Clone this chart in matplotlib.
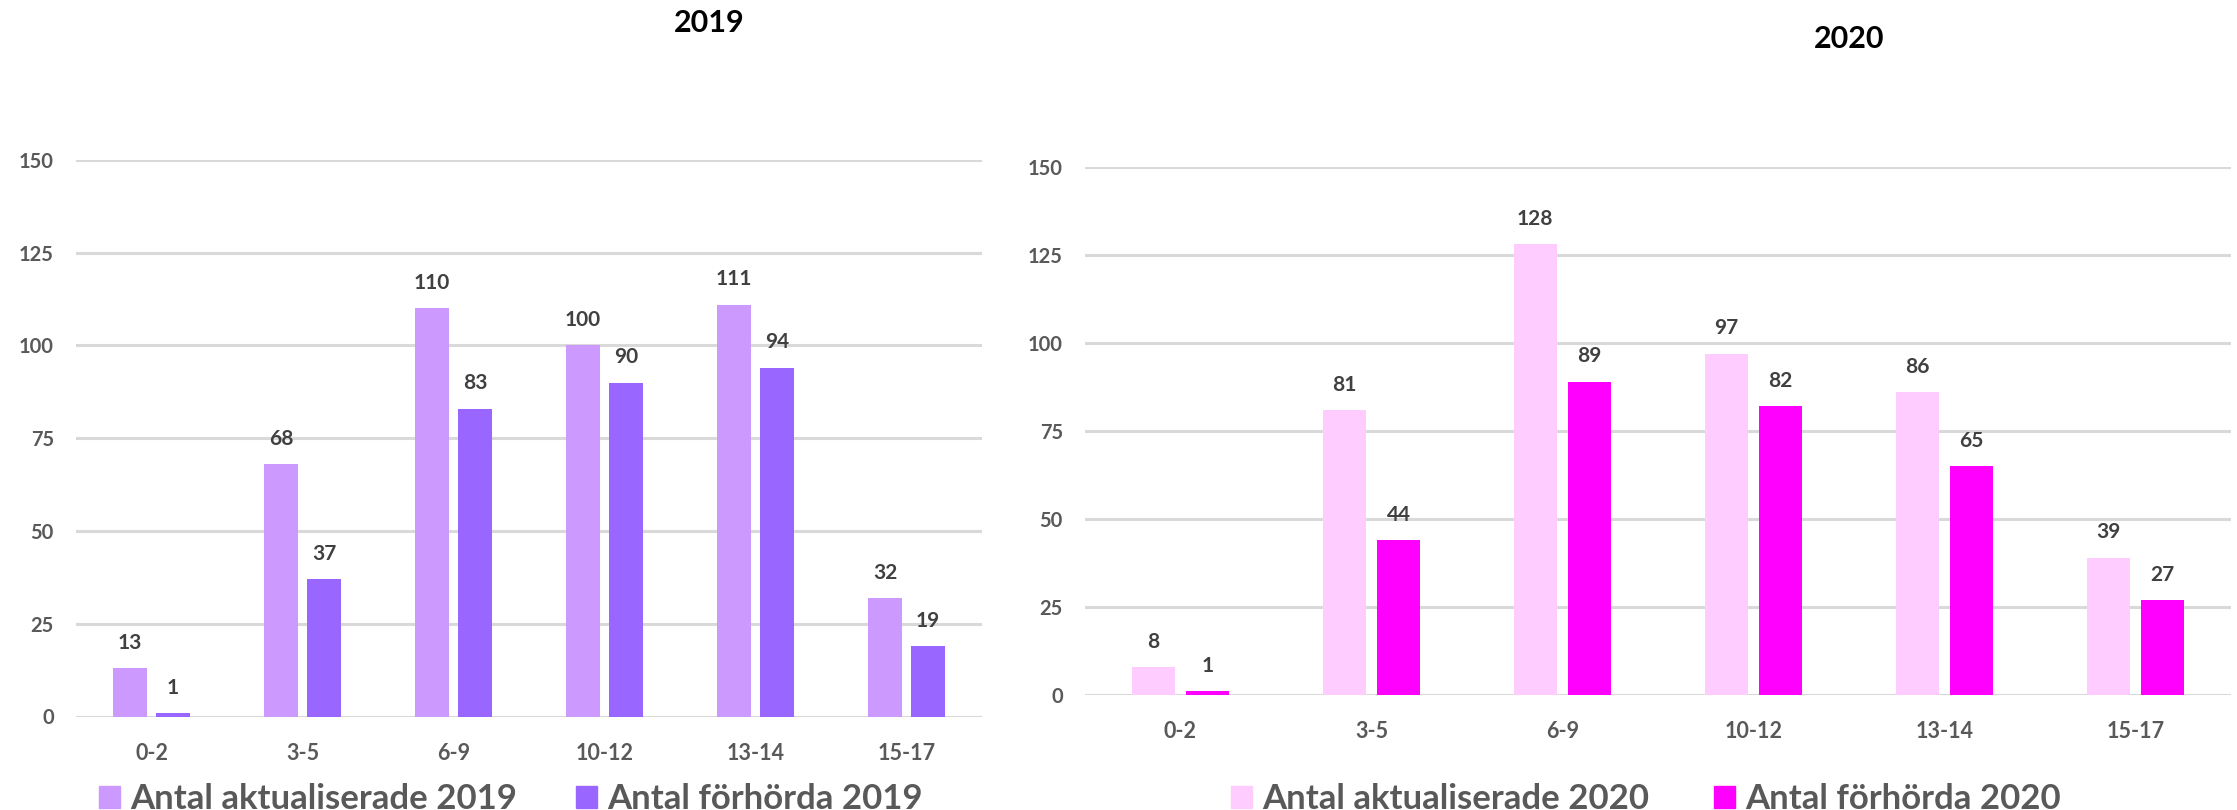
"""Grouped bar charts: aktualiserade vs förhörda per age group, 2019 and 2020."""

import matplotlib
matplotlib.use("Agg")
import matplotlib.pyplot as plt
import numpy as np
from matplotlib.patches import Patch

plt.rcParams["font.family"] = ["Lato", "DejaVu Sans"]
plt.rcParams["font.weight"] = "bold"

age_groups = ["0-2", "3-5", "6-9", "10-12", "13-14", "15-17"]

aktualiserade_2019 = [13, 68, 110, 100, 111, 32]
forhorda_2019 = [1, 37, 83, 90, 94, 19]
aktualiserade_2020 = [8, 81, 128, 97, 86, 39]
forhorda_2020 = [1, 44, 89, 82, 65, 27]

yticks = [0, 25, 50, 75, 100, 125, 150]

TICK_GREY = "#595959"
LABEL_GREY = "#404040"
GRID_GREY = "#d9d9d9"
W, H = 2237, 810


def px_axes(fig, x0, x1, y_top, y_bot):
    # axes rectangle from pixel edges (origin top-left)
    return fig.add_axes([x0 / W, (H - y_bot) / H, (x1 - x0) / W, (y_bot - y_top) / H])


def draw_panel(ax, light, dark, c_light, c_dark):
    x = np.arange(len(age_groups))
    w = 0.225
    gap = 0.06
    off = (w + gap) / 2
    b1 = ax.bar(x - off, light, w, color=c_light, zorder=3)
    b2 = ax.bar(x + off, dark, w, color=c_dark, zorder=3)
    for bars in (b1, b2):
        ax.bar_label(bars, padding=11, fontsize=15, fontweight="bold", color=LABEL_GREY)

    ax.set_xlim(-0.5, len(age_groups) - 0.5)
    ax.set_ylim(0, 150)
    ax.set_yticks(yticks, labels=[str(t) for t in yticks], fontweight="bold")
    ax.set_xticks(x, labels=age_groups, fontweight="bold")
    ax.tick_params(axis="y", length=0, pad=16, labelsize=14.5, labelcolor=TICK_GREY)
    ax.tick_params(axis="x", length=0, pad=19, labelsize=15.5, labelcolor=TICK_GREY)
    ax.grid(axis="y", color=GRID_GREY, linewidth=2.2, zorder=0)
    for s in ax.spines.values():
        s.set_visible(False)

    return [Patch(color=c_light), Patch(color=c_dark)]


def add_legend(fig, handles, labels, cx, cy, colspace):
    fig.legend(handles, labels, loc="center", bbox_to_anchor=(cx / W, cy / H),
               ncol=2, frameon=False, labelcolor=TICK_GREY,
               handlelength=0.6, handleheight=0.6, handletextpad=0.3,
               columnspacing=colspace, borderpad=0,
               prop={"family": ["Lato", "DejaVu Sans"], "weight": "bold", "size": 25})


fig = plt.figure(figsize=(W / 100, H / 100), dpi=100)

ax1 = px_axes(fig, 76, 982, 160, 716.5)
h1 = draw_panel(ax1, aktualiserade_2019, forhorda_2019, "#cc99ff", "#9966ff")
fig.text(709 / W, 1 - 23 / H, "2019", ha="center", va="center",
         fontsize=22, fontweight="bold", color="black")
add_legend(fig, h1, ["Antal aktualiserade 2019", "Antal förhörda 2019"], 511, 11, 1.7)

ax2 = px_axes(fig, 1085, 2231, 167, 695)
h2 = draw_panel(ax2, aktualiserade_2020, forhorda_2020, "#ffccff", "#ff00ff")
fig.text(1849 / W, 1 - 39 / H, "2020", ha="center", va="center",
         fontsize=22, fontweight="bold", color="black")
add_legend(fig, h2, ["Antal aktualiserade 2020", "Antal förhörda 2020"], 1646, 11, 1.85)

fig.savefig("out.png", dpi=100)
